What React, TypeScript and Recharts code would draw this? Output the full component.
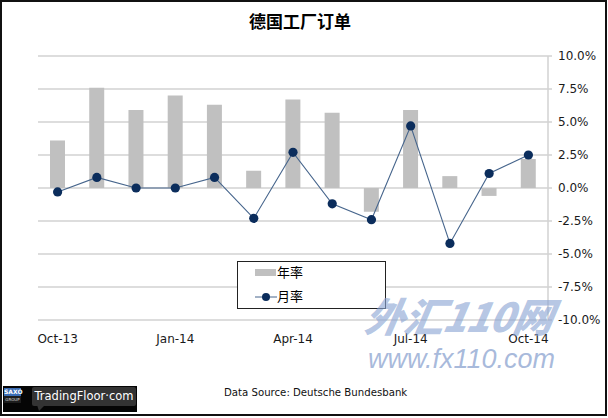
import React from 'react';
import { ComposedChart, Bar, Line, XAxis, YAxis, CartesianGrid, Legend } from 'recharts';

const months = ['Oct-13', 'Nov-13', 'Dec-13', 'Jan-14', 'Feb-14', 'Mar-14', 'Apr-14', 'May-14', 'Jun-14', 'Jul-14', 'Aug-14', 'Sep-14', 'Oct-14'];
const yoyValues = [3.6, 7.6, 5.9, 7.0, 6.3, 1.3, 6.7, 5.7, -1.8, 5.9, 0.9, -0.6, 2.2];
const momValues = [-0.3, 0.8, 0.0, 0.0, 0.8, -2.3, 2.7, -1.2, -2.4, 4.7, -4.2, 1.1, 2.5];
const yTicks = [-10, -7.5, -5, -2.5, 0, 2.5, 5, 7.5, 10];
const seriesNames = { yoy: '年率', mom: '月率' };
const titleText = '德国工厂订单';
const sourceText = 'Data Source: Deutsche Bundesbank';

const data = months.map((m, i) => ({ month: m, yoy: yoyValues[i], mom: momValues[i] }));

const BAR_COLOR = '#c0c0c0';
const LINE_COLOR = '#46658c';
const DOT_COLOR = '#0b2d5c';
const GRID_COLOR = '#d2d2d2';
const FONT = '"DejaVu Sans", Verdana, sans-serif';

const LegendBox = () => (
  <div
    style={{
      width: 147,
      height: 46,
      border: '1px solid #222',
      background: '#fff',
      fontFamily: '"Noto Sans CJK SC", sans-serif',
      fontSize: 13,
      color: '#000',
      position: 'relative',
    }}
  >
    <div style={{ position: 'absolute', left: 17, top: 7, width: 21, height: 7, background: BAR_COLOR }} />
    <div style={{ position: 'absolute', left: 39, top: 2, lineHeight: '16px' }}>{seriesNames.yoy}</div>
    <svg style={{ position: 'absolute', left: 17, top: 30 }} width={22} height={10}>
      <line x1={0} y1={5} x2={22} y2={5} stroke={LINE_COLOR} strokeWidth={1} />
      <circle cx={11} cy={5} r={4} fill={DOT_COLOR} />
    </svg>
    <div style={{ position: 'absolute', left: 39, top: 26, lineHeight: '16px' }}>{seriesNames.mom}</div>
  </div>
);

export default function App() {
  return (
    <div style={{ position: 'absolute', left: 0, top: 0, width: 608, height: 418, background: '#fff', overflow: 'hidden' }}>
      <div style={{ position: 'absolute', left: 0, top: 0 }}>
        <ComposedChart
          width={608}
          height={418}
          data={data}
          margin={{ top: 56, right: 0, bottom: 68, left: 38 }}
          barCategoryGap={0}
        >
          <CartesianGrid horizontal vertical={false} stroke={GRID_COLOR} strokeWidth={1.5} yAxisId="r" />
          <XAxis
            dataKey="month"
            interval={2}
            axisLine={false}
            tickLine={false}
            height={30}
            tickMargin={8}
            tick={{ fontFamily: FONT, fontSize: 12, fill: '#1a1a1a' }}
          />
          <YAxis
            yAxisId="l"
            orientation="left"
            width={0}
            domain={[-10, 10]}
            ticks={yTicks}
            tick={false}
            tickLine={false}
            axisLine={{ stroke: GRID_COLOR, strokeWidth: 1.5 }}
          />
          <YAxis
            yAxisId="r"
            orientation="right"
            width={60}
            domain={[-10, 10]}
            ticks={yTicks}
            interval={0}
            tickSize={4}
            tickMargin={6}
            tickLine={{ stroke: GRID_COLOR, strokeWidth: 1.5 }}
            axisLine={{ stroke: GRID_COLOR, strokeWidth: 1.5 }}
            tickFormatter={(v: number) => v.toFixed(1) + '%'}
            tick={{ fontFamily: FONT, fontSize: 12, fill: '#1a1a1a' }}
          />
          <Bar yAxisId="r" dataKey="yoy" name={seriesNames.yoy} fill={BAR_COLOR} barSize={15} isAnimationActive={false} />
          <Line
            yAxisId="r"
            dataKey="mom"
            name={seriesNames.mom}
            stroke={LINE_COLOR}
            strokeWidth={1.1}
            dot={{ r: 4.6, fill: DOT_COLOR, stroke: DOT_COLOR, strokeWidth: 0 }}
            activeDot={false}
            isAnimationActive={false}
          />
          <Legend
            layout="horizontal"
            verticalAlign="middle"
            align="center"
            content={() => <LegendBox />}
            wrapperStyle={{ position: 'absolute', left: 237, top: 261, width: 149, height: 48 }}
          />
        </ComposedChart>
      </div>

      <div
        style={{
          position: 'absolute',
          left: 0,
          width: 600,
          top: 8,
          textAlign: 'center',
          fontFamily: '"Noto Sans CJK SC", sans-serif',
          fontWeight: 700,
          fontSize: 17,
          lineHeight: '26px',
          color: '#000',
        }}
      >
        {titleText}
      </div>

      <div
        style={{
          position: 'absolute',
          left: 366,
          top: 293,
          fontFamily: '"Noto Sans CJK SC", sans-serif',
          fontWeight: 900,
          fontStyle: 'italic',
          fontSize: 40,
          lineHeight: '44px',
          color: 'rgba(140,166,212,0.65)',
          letterSpacing: -1,
          transform: 'skewX(-10deg)',
        }}
      >
        外汇110网
      </div>
      <div
        style={{
          position: 'absolute',
          left: 368,
          top: 344,
          fontFamily: '"Liberation Sans", Arial, sans-serif',
          fontStyle: 'italic',
          fontSize: 27,
          lineHeight: '30px',
          color: 'rgba(140,163,208,0.75)',
        }}
      >
        www.fx110.com
      </div>

      <div
        style={{
          position: 'absolute',
          left: 224,
          top: 386,
          fontFamily: '"DejaVu Sans Condensed", "DejaVu Sans", sans-serif',
          fontSize: 11.3,
          lineHeight: '14px',
          color: '#111',
        }}
      >
        {sourceText}
      </div>

      <div style={{ position: 'absolute', left: 3, top: 386, width: 134, height: 26, background: '#050505' }}>
        <div style={{ position: 'absolute', left: 1, top: 2, width: 17, height: 15, background: '#1d1d1d' }}>
          <div style={{ height: 8, background: '#3b6db5', color: '#fff', fontFamily: FONT, fontSize: 6, fontWeight: 700, lineHeight: '8px', textAlign: 'center' }}>SAXO</div>
          <div style={{ height: 7, color: '#ddd', fontFamily: FONT, fontSize: 4, lineHeight: '7px', textAlign: 'center' }}>GROUP</div>
        </div>
        <div
          style={{
            position: 'absolute',
            left: 29,
            top: 1,
            width: 104,
            height: 19,
            background: '#333',
            borderRadius: 2,
            color: '#fff',
            fontFamily: '"DejaVu Sans", sans-serif',
            fontSize: 11.5,
            lineHeight: '19px',
            textAlign: 'center',
          }}
        >
          TradingFloor·com
        </div>
        <svg style={{ position: 'absolute', left: 34, top: 19 }} width={10} height={6}>
          <polygon points="0,0 8,0 2,6" fill="#333" />
        </svg>
      </div>

      <div style={{ position: 'absolute', left: 0, top: 0, width: 607, height: 416, border: '2px solid #111', boxSizing: 'border-box', pointerEvents: 'none' }} />
    </div>
  );
}
